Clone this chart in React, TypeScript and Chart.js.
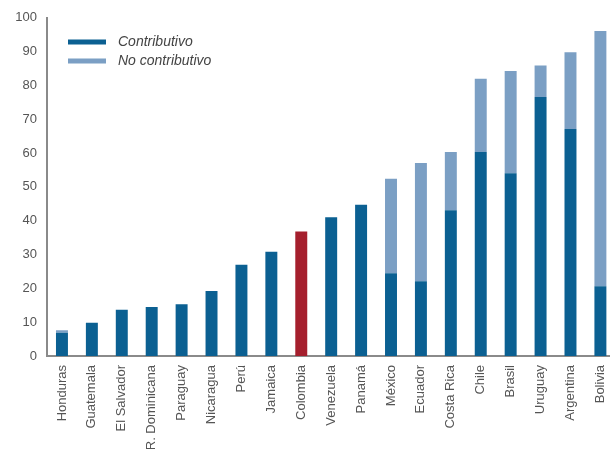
import React, { useEffect, useRef } from "react";
import { Chart, registerables } from "chart.js";

Chart.register(...registerables);

const categories = [
  "Honduras", "Guatemala", "El Salvador", "R. Dominicana", "Paraguay", "Nicaragua",
  "Perú", "Jamaica", "Colombia", "Venezuela", "Panamá", "México", "Ecuador",
  "Costa Rica", "Chile", "Brasil", "Uruguay", "Argentina", "Bolivia",
];
const contributivo = [6.9, 9.8, 13.7, 14.5, 15.3, 19.2, 27.0, 30.8, 36.8, 41.0, 44.7, 24.5, 22.1, 43.1, 60.3, 54.0, 76.6, 67.1, 20.6];
const noContributivo = [0.7, 0, 0, 0, 0, 0, 0, 0, 0, 0, 0, 27.9, 35.0, 17.2, 21.7, 30.3, 9.3, 22.7, 75.5];
const yTicks = [0, 10, 20, 30, 40, 50, 60, 70, 80, 90, 100];
const highlight = "Colombia";

const DARK = "#0b6092";
const LIGHT = "#7b9fc4";
const RED = "#a51f2d";
const TEXT = "#555555";
const AXIS = "#8a8a8a";

export default function App() {
  const ref = useRef<HTMLCanvasElement | null>(null);
  useEffect(() => {
    if (!ref.current) return;
    const legendPlugin = {
      id: "insideLegend",
      afterDraw(chart: any) {
        const ctx = chart.ctx;
        const items = [
          { label: "Contributivo", color: DARK },
          { label: "No contributivo", color: LIGHT },
        ];
        ctx.save();
        items.forEach((it, i) => {
          const y = 42 + i * 19;
          ctx.fillStyle = it.color;
          ctx.fillRect(68, y - 2.5, 38, 5);
          ctx.fillStyle = "#444444";
          ctx.font = "italic 14px 'Liberation Sans', Arial, sans-serif";
          ctx.textBaseline = "middle";
          ctx.textAlign = "left";
          ctx.fillText(it.label, 118, y);
        });
        ctx.restore();
      },
    };
    const chart = new Chart(ref.current, {
      type: "bar",
      data: {
        labels: categories,
        datasets: [
          {
            label: "Contributivo",
            data: contributivo,
            backgroundColor: categories.map((c) => (c === highlight ? RED : DARK)),
            barPercentage: 0.4,
            categoryPercentage: 1,
          },
          {
            label: "No contributivo",
            data: noContributivo,
            backgroundColor: LIGHT,
            barPercentage: 0.4,
            categoryPercentage: 1,
          },
        ],
      },
      options: {
        animation: false,
        responsive: false,
        devicePixelRatio: 1,
        layout: { autoPadding: false, padding: { top: 16, left: 0, right: 0, bottom: 0 } },
        plugins: { legend: { display: false }, tooltip: { enabled: false } },
        scales: {
          x: {
            stacked: true,
            grid: { display: false, drawTicks: false },
            border: { display: true, color: AXIS, width: 2 },
            ticks: {
              color: TEXT,
              font: { family: "'Liberation Sans', Arial, sans-serif", size: 13 },
              minRotation: 90,
              maxRotation: 90,
              autoSkip: false,
              padding: 9,
            },
            afterFit(scale: any) {
              scale.height = 93;
            },
          },
          y: {
            stacked: true,
            min: 0,
            max: 100,
            afterBuildTicks(scale: any) {
              scale.ticks = yTicks.map((v) => ({ value: v }));
            },
            grid: { display: false, drawTicks: false },
            border: { display: true, color: AXIS, width: 2 },
            ticks: {
              color: TEXT,
              font: { family: "'Liberation Sans', Arial, sans-serif", size: 13 },
              padding: 10,
            },
            afterFit(scale: any) {
              scale.width = 47;
            },
          },
        },
      },
      plugins: [legendPlugin],
    });
    return () => chart.destroy();
  }, []);
  return (
    <div style={{ position: "fixed", left: 0, top: 0, width: 610, height: 449, overflow: "hidden", background: "#fff" }}>
      <canvas ref={ref} width={625} height={449} style={{ display: "block" }} />
    </div>
  );
}
